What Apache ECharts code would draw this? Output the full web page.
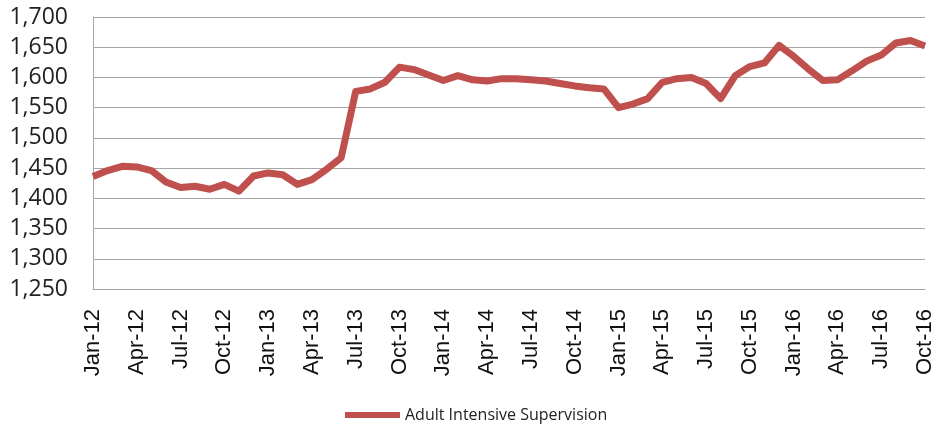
<!DOCTYPE html>
<html>
<head>
<meta charset="utf-8">
<script src="https://cdn.jsdelivr.net/npm/echarts@6/dist/echarts.min.js"></script>
<style>
  html, body { margin: 0; padding: 0; background: #fff; }
  #chart { width: 936px; height: 426px; }
</style>
</head>
<body>
<div id="chart"></div>
<script>
var months = [
  'Jan-12', 'Feb-12', 'Mar-12', 'Apr-12', 'May-12', 'Jun-12', 'Jul-12', 'Aug-12', 'Sep-12', 'Oct-12', 'Nov-12', 'Dec-12',
  'Jan-13', 'Feb-13', 'Mar-13', 'Apr-13', 'May-13', 'Jun-13', 'Jul-13', 'Aug-13', 'Sep-13', 'Oct-13', 'Nov-13', 'Dec-13',
  'Jan-14', 'Feb-14', 'Mar-14', 'Apr-14', 'May-14', 'Jun-14', 'Jul-14', 'Aug-14', 'Sep-14', 'Oct-14', 'Nov-14', 'Dec-14',
  'Jan-15', 'Feb-15', 'Mar-15', 'Apr-15', 'May-15', 'Jun-15', 'Jul-15', 'Aug-15', 'Sep-15', 'Oct-15', 'Nov-15', 'Dec-15',
  'Jan-16', 'Feb-16', 'Mar-16', 'Apr-16', 'May-16', 'Jun-16', 'Jul-16', 'Aug-16', 'Sep-16', 'Oct-16'
]

var adultIntensive = [
  1436, 1446, 1453, 1452, 1446, 1427, 1418, 1420, 1415, 1423, 1412, 1437,
  1442, 1439, 1423, 1431, 1448, 1467, 1577, 1581, 1592, 1617, 1613, 1604,
  1595, 1603, 1596, 1594, 1598, 1598, 1596, 1594, 1590, 1586, 1583, 1581,
  1550, 1556, 1565, 1592, 1598, 1600, 1590, 1565, 1603, 1618, 1624, 1653,
  1635, 1614, 1595, 1596, 1611, 1627, 1637, 1657, 1661, 1652
]

var yMin = 1250
var yMax = 1700
var yStep = 50

var myChart = echarts.init(document.getElementById('chart'))
var option = {
  animation: false,
  color: ['#C0504D'],
  legend: {
    left: 340,
    top: 402,
    icon: 'rect',
    itemWidth: 55,
    itemHeight: 6,
    itemGap: 10,
    textStyle: {
      fontFamily: 'Open Sans',
      fontSize: 16,
      color: '#222'
    },
    data: ['Adult Intensive Supervision']
  },
  grid: {
    left: 93,
    right: 10,
    top: 17,
    bottom: 137,
    containLabel: false
  },
  xAxis: {
    type: 'category',
    data: months,
    boundaryGap: false,
    axisLine: { lineStyle: { color: '#A6A6A6', width: 1 } },
    axisTick: { show: false },
    axisLabel: {
      interval: 2,
      rotate: 90,
      margin: 20,
      fontFamily: 'Liberation Sans',
      fontSize: 22,
      color: '#111'
    },
    splitLine: { show: false }
  },
  yAxis: {
    type: 'value',
    min: yMin,
    max: yMax,
    interval: yStep,
    axisLine: { show: true, lineStyle: { color: '#A6A6A6', width: 1 } },
    axisTick: { show: false },
    axisLabel: {
      margin: 25,
      fontFamily: 'Open Sans',
      fontSize: 23,
      color: '#222',
      formatter: function (v) {
        return v.toLocaleString('en-US')
      }
    },
    splitLine: { lineStyle: { color: '#A6A6A6', width: 1 } }
  },
  series: [
    {
      name: 'Adult Intensive Supervision',
      type: 'line',
      data: adultIntensive,
      symbol: 'none',
      lineStyle: { width: 7, color: '#C0504D', join: 'round' }
    }
  ]
}
myChart.setOption(option)
</script>
</body>
</html>
